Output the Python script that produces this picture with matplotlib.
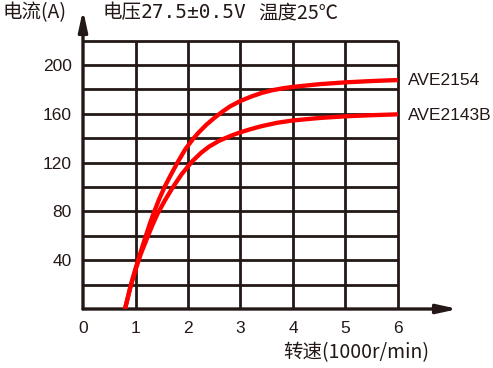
import matplotlib.pyplot as plt

# current vs speed
speed_a = [0.8, 0.91, 1.0, 1.1, 1.19, 1.27, 1.35, 1.45, 1.56, 1.68, 1.80, 1.95, 2.09, 2.2, 2.35, 2.5,
           2.65, 2.8, 3.0, 3.2, 3.4, 3.6, 3.8, 4.0, 4.5, 5.0, 5.5, 6.0]
ave2154 = [0, 19.5, 33, 47, 59, 69.5, 79, 90, 100.5, 110.5, 120, 131, 139, 144.5, 151, 156.5,
           161.5, 166, 170.5, 174, 177, 179.2, 180.8, 182, 184.2, 185.7, 186.8, 187.6]

speed_b = [0.8, 0.91, 1.0, 1.1, 1.23, 1.32, 1.42, 1.56, 1.70, 1.88, 2.08, 2.25, 2.4, 2.6, 2.85,
           3.0, 3.18, 3.4, 3.7, 4.0, 4.5, 5.0, 5.5, 6.0]
ave2143b = [0, 19, 32, 45, 59, 68.5, 78, 89, 99, 110.5, 121, 128, 133, 138, 142.5,
            144.8, 147.2, 149.8, 152.6, 154.5, 156.5, 157.9, 158.8, 159.5]

x_ticks = [0, 1, 2, 3, 4, 5, 6]
y_ticks = [40, 80, 120, 160, 200]
grid_x = [1, 2, 3, 4, 5, 6]
grid_y = [20, 40, 60, 80, 100, 120, 140, 160, 180, 200, 220]

ink = "#231815"
red = "#fe0000"
cjk = ["Noto Sans CJK SC", "DejaVu Sans"]
latin = ["Liberation Sans", "DejaVu Sans"]

W, H = 493, 368
fig = plt.figure(figsize=(W / 100, H / 100), dpi=100)

# pixel scale of the plot area
px_x = 52.5
px_y = 268.5 / 220
x_max = (460 - 83) / px_x
y_max = (309 - 8) / px_y
ax = fig.add_axes([83 / W, (H - 309) / H, x_max * px_x / W, y_max * px_y / H])
ax.set_xlim(0, x_max)
ax.set_ylim(0, y_max)
for s in ax.spines.values():
    s.set_visible(False)

ax.vlines(grid_x, 0, 220, color=ink, lw=2.0, zorder=1)
ax.hlines(grid_y, 0, 6, color=ink, lw=2.0, zorder=1)

arrow = dict(arrowstyle="-|>,head_length=1.0,head_width=0.22", lw=2.4,
             color=ink, shrinkA=0, shrinkB=0, mutation_scale=12)
ax.annotate("", xy=((458 - 83) / px_x, 0), xytext=(0, 0), arrowprops=arrow,
            annotation_clip=False, zorder=2)
ax.annotate("", xy=(0, (309 - 10) / px_y), xytext=(0, 0), arrowprops=arrow,
            annotation_clip=False, zorder=2)

ax.plot(speed_a, ave2154, color=red, lw=3.1, solid_capstyle="butt",
        solid_joinstyle="round", zorder=3)
ax.plot(speed_b, ave2143b, color=red, lw=3.1, solid_capstyle="butt",
        solid_joinstyle="round", zorder=3)

ax.set_xticks(x_ticks)
ax.set_yticks(y_ticks)
ax.set_xticklabels([str(v) for v in x_ticks], family=latin, fontsize=12.5)
ax.set_yticklabels([str(v) for v in y_ticks], family=latin, fontsize=12.5)
ax.tick_params(axis="x", length=0, pad=8.5, colors=ink)
ax.tick_params(axis="y", length=0, pad=8, colors=ink)


def ftext(x, y, s, **kw):
    fig.text(x / W, 1 - y / H, s, va="center", color=ink, **kw)


ftext(3, 13, "电流(A)", family=cjk, fontsize=14)
ftext(103, 13, "电压", family=cjk, fontsize=14)
ftext(141, 13, "27.5±0.5V", family=["DejaVu Sans Mono", "Noto Sans CJK SC"], fontsize=14)
ftext(258, 13, "温度25℃", family=cjk, fontsize=14)
ftext(283, 353, "转速(1000r/min)", family=cjk, fontsize=14)
ftext(408, 80.5, "AVE2154", family=latin, fontsize=12.5)
ftext(408, 115, "AVE2143B", family=latin, fontsize=12.5)

fig.savefig("out.png", dpi=100)
